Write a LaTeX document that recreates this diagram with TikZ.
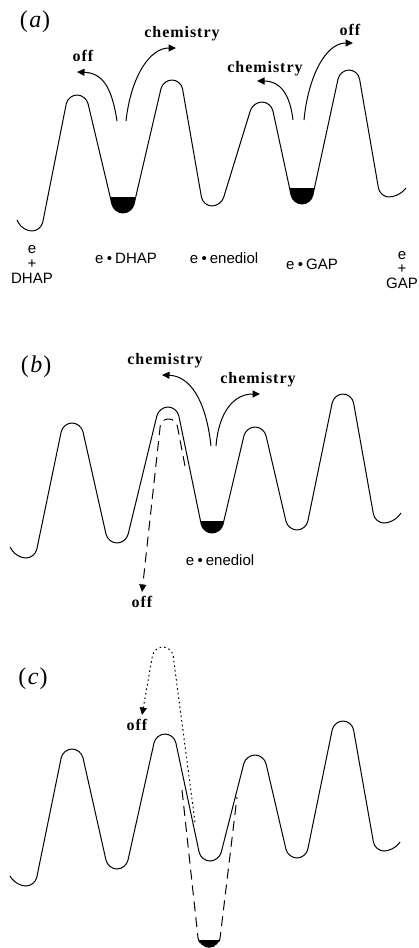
\documentclass[tikz,border=0pt]{standalone}
\usepackage{fontspec}
\setmainfont{Liberation Serif}
\newfontfamily\lblfont{Liberation Sans}
\newfontfamily\chemfont[LetterSpace=6]{Liberation Serif}
\usetikzlibrary{arrows.meta}
\newcommand\bul{\hspace{3.5pt}•\hspace{3pt}}
\tikzset{
  prof/.style={line width=1pt, rounded corners=9pt, line join=round},
  wellfill/.style={fill=black, rounded corners=9pt},
  arr/.style={line width=1pt, -{Triangle[length=7.5pt,width=7pt]}},
  dsh/.style={line width=1pt, dash pattern=on 10pt off 6pt},
  dts/.style={line width=1pt, dash pattern=on 1.6pt off 3pt},
  ctext/.style={font=\chemfont\bfseries\fontsize{16}{16}\selectfont, anchor=base, inner sep=0pt},
  stext/.style={font=\lblfont\fontsize{15}{15}\selectfont, anchor=base, inner sep=0pt},
  ptext/.style={font=\fontsize{24}{24}\selectfont, inner sep=0pt}
}
\begin{document}
\begin{tikzpicture}[x=1pt,y=-1pt]
\useasboundingbox (0,0) rectangle (418,948);
% ---------------- (a) ----------------
\node[ptext] (pa) at (35,22) {(\kern1.5pt\textit{a}\kern1pt)};
\draw[prof] (17,220) -- (23,231) -- (41,231) -- (68,95) -- (86,95) -- (114,213) -- (132,213) -- (163,80) -- (181,80) -- (203,206) -- (221,206) -- (253,102) -- (271,102) -- (293,204) -- (311,204) -- (340,70) -- (358,70) -- (380,197) -- (398,197) -- (406,188);
\begin{scope}
  \clip (0,197) rectangle (418,240);
  \fill[wellfill] (86,95) -- (114,213) -- (132,213) -- (163,80) -- cycle;
\end{scope}
\begin{scope}
  \clip (0,188) rectangle (418,240);
  \fill[wellfill] (271,102) -- (293,204) -- (311,204) -- (340,70) -- cycle;
\end{scope}
\node[ctext] (offa1) at (83,61) {off};
\node[ctext] (chema1) at (182,37) {chemistry};
\node[ctext] (chema2) at (265,72) {chemistry};
\node[ctext] (offa2) at (350,35) {off};
\coordinate (a1s) at (117,121); \coordinate (a1e) at (77,72);
\coordinate (a2s) at (126,121); \coordinate (a2e) at (176,48);
\coordinate (a3s) at (293,120); \coordinate (a3e) at (257,81);
\coordinate (a4s) at (304,120); \coordinate (a4e) at (353,43);
\draw[arr] (a1s) .. controls (112,88) and (103,73) .. (a1e);
\draw[arr] (a2s) .. controls (131,76) and (150,48) .. (a2e);
\draw[arr] (a3s) .. controls (290,94) and (280,81) .. (a3e);
\draw[arr] (a4s) .. controls (308,78) and (325,43) .. (a4e);
\node[stext] (la1) at (32,253) {e};
\node[stext] (la2) at (32,268) {+};
\node[stext] (la3) at (32,283) {DHAP};
\node[stext] (lb) at (126,263) {e\bul DHAP};
\node[stext] (lc) at (224,263) {e\bul enediol};
\node[stext] (ld) at (312,269) {e\bul GAP};
\node[stext] (le1) at (402,259) {e};
\node[stext] (le2) at (402,273) {+};
\node[stext] (le3) at (402,288) {GAP};
% ---------------- (b) ----------------
\node[ptext] (pb) at (36,367) {(\kern1.5pt\textit{b}\kern1pt)};
\draw[prof] (10,547) -- (17,558) -- (35,558) -- (63,423) -- (81,423) -- (108,543) -- (126,543) -- (159,407) -- (177,407) -- (203,533) -- (221,533) -- (246,427) -- (264,427) -- (288,530) -- (306,530) -- (334,394) -- (352,394) -- (375,523) -- (393,523) -- (401,513);
\begin{scope}
  \clip (0,521) rectangle (418,560);
  \fill[wellfill] (177,407) -- (203,533) -- (221,533) -- (246,427) -- cycle;
\end{scope}
\node[ctext] (chemb1) at (165,364) {chemistry};
\node[ctext] (chemb2) at (258,383) {chemistry};
\node[ctext] (offb) at (142,607) {off};
\node[stext] (lbe) at (220,565) {e\bul enediol};
\coordinate (b1s) at (211,446); \coordinate (b1e) at (162,375);
\coordinate (b2s) at (216,446); \coordinate (b2e) at (260,394);
\coordinate (b3s) at (185,466); \coordinate (b3e) at (142,592);
\draw[arr] (b1s) .. controls (206,400) and (190,376) .. (b1e);
\draw[arr] (b2s) .. controls (219,410) and (235,394) .. (b2e);
\draw[dsh, rounded corners=7pt, -{Triangle[length=7.5pt,width=7pt]}] (b3s) -- (176,419) -- (161,419) -- (b3e);
% ---------------- (c) ----------------
\node[ptext] (pc) at (33,679) {(\kern1.5pt\textit{c}\kern1pt)};
\draw[prof] (10,876) -- (17,886) -- (35,886) -- (63,749) -- (81,749) -- (108,869) -- (126,869) -- (156,734) -- (174,734) -- (201,861) -- (219,861) -- (246,755) -- (264,755) -- (288,858) -- (306,858) -- (334,721) -- (352,721) -- (375,851) -- (393,851) -- (400,842);
\begin{scope}
  \clip (0,0) rectangle (418,948);
  \draw[dsh, rounded corners=9pt] (182,790) -- (199,947) -- (219,947) -- (237,797);
  \begin{scope}
    \clip (0,940) rectangle (418,948);
    \fill[wellfill] (182,790) -- (199,947) -- (219,947) -- (237,797) -- cycle;
  \end{scope}
\end{scope}
\node[ctext] (offc) at (137,730) {off};
\coordinate (c1s) at (195,822); \coordinate (c1e) at (142,715);
\draw[dts, rounded corners=9pt, -{Triangle[length=7.5pt,width=7pt]}] (c1s) -- (172,647) -- (154,647) -- (c1e);
\end{tikzpicture}
\end{document}
